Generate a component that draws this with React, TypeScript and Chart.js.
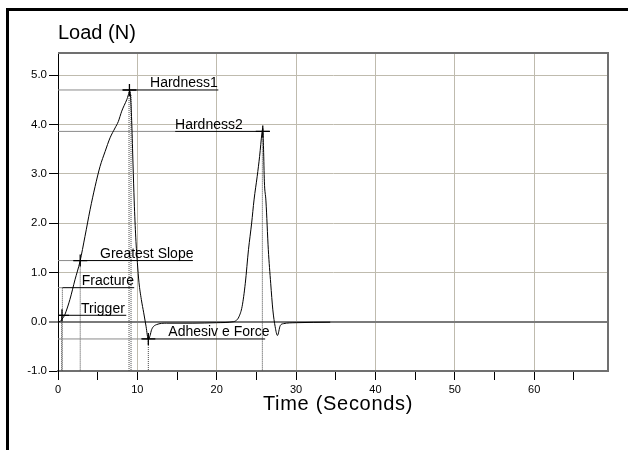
import { useEffect, useRef } from 'react';
import { Chart, registerables } from 'chart.js';

Chart.register(...registerables);

// Texture analyser curve: time (s) vs load (N)
const timeSec = [
  0, 0.3, 0.5, 0.8, 1.0, 1.5, 2.14, 2.77, 3.4, 4.04, 4.67, 5.3, 5.93, 6.56, 7.19, 7.6, 8.03, 8.66, 9.08,
  9.15, 9.3, 9.45, 9.6, 9.8, 10.0, 10.2, 10.5, 10.8, 11.1, 11.38, 11.6, 11.8, 12.4, 13.7, 17, 20, 22.1,
  22.5, 22.8, 23.2, 23.6, 24.0, 24.4, 24.7, 25.1, 25.4, 25.7, 25.8, 25.9, 26.0, 26.2, 26.5, 26.8, 27.07,
  27.36, 27.65, 28.0, 28.4, 30, 34.3,
];
const loadN = [
  0, 0.01, 0.05, 0.12, 0.2, 0.45, 0.85, 1.22, 1.73, 2.27, 2.74, 3.15, 3.45, 3.73, 3.93, 4.06, 4.27, 4.5, 4.67,
  4.55, 4.0, 3.2, 2.45, 1.7, 1.2, 0.8, 0.45, 0.18, -0.1, -0.36, -0.28, -0.16, -0.06, -0.03, -0.03, -0.02, 0.0,
  0.03, 0.1, 0.31, 0.78, 1.46, 2.0, 2.47, 2.95, 3.35, 3.83, 3.92, 3.5, 2.85, 2.45, 1.46, 0.78, 0.24,
  -0.1, -0.28, -0.08, -0.04, -0.02, -0.01,
];

// Analysis markers
const markerNames = ['Trigger', 'Fracture', 'Greatest Slope', 'Hardness1', 'Hardness2', 'Adhesiv e Force'];
const markerTimes = [0.5, 0.55, 2.8, 9.0, 25.8, 11.38];
const markerLoads = [0.13, 0.69, 1.24, 4.7, 3.86, -0.35];
const markerCross = [true, false, true, true, true, true];
const leaderStart = [0, 0.55, 2.0, 8.2, 14.75, 10.6];
const leaderEnd = [8.6, 9.6, 17.0, 20.2, 26.7, 26.1];
const labelTimes = [2.9, 3.0, 5.3, 11.6, 14.75, 13.9];

// Dotted drop lines from analysis points to the axis
const dropTimes = [0.45, 0.55, 2.8, 8.95, 9.2, 11.38, 25.75];
const dropLoads = [0.13, 0.69, 1.24, 4.7, 4.6, -0.35, 3.86];

// Axes
const xMin = 0;
const xMax = 69.3;
const yMin = -1;
const yMax = 5.45;

const FONT = "'Liberation Sans', Arial, Helvetica, sans-serif";
const GRID = '#bfbbae';

export default function App() {
  const ref = useRef<HTMLCanvasElement>(null);

  useEffect(() => {
    const canvas = ref.current;
    if (!canvas) return;

    const curve = timeSec.map((t, i) => ({ x: t, y: loadN[i] }));
    const grayLeaders: any[] = [];
    const darkLeaders: any[] = [];
    markerNames.forEach((_, i) => {
      const v = markerLoads[i];
      if (leaderStart[i] > xMin) {
        grayLeaders.push({ x: xMin, y: v }, { x: leaderStart[i], y: v }, { x: leaderStart[i], y: null });
      }
      darkLeaders.push({ x: leaderStart[i], y: v }, { x: leaderEnd[i], y: v }, { x: leaderEnd[i], y: null });
    });
    const drops: any[] = [];
    dropTimes.forEach((t, i) => {
      drops.push({ x: t, y: dropLoads[i] }, { x: t, y: yMin }, { x: t, y: null });
    });

    const decor = {
      id: 'decor',
      beforeDraw(chart: any) {
        const ctx = chart.ctx;
        ctx.save();
        ctx.fillStyle = '#000';
        ctx.fillRect(6, 8, chart.width - 6, 3);
        ctx.fillRect(6, 8, 3, chart.height - 8);
        ctx.restore();
      },
      afterDatasetsDraw(chart: any) {
        const { ctx, chartArea: a } = chart;
        const xs = chart.scales.x;
        const ys = chart.scales.y;
        ctx.save();
        ctx.strokeStyle = '#707070';
        ctx.lineWidth = 2;
        ctx.beginPath();
        ctx.moveTo(a.left, a.top);
        ctx.lineTo(a.right, a.top);
        ctx.lineTo(a.right, a.bottom);
        ctx.stroke();

        ctx.strokeStyle = '#000';
        ctx.lineWidth = 1.3;
        ctx.fillStyle = '#000';
        ctx.textAlign = 'left';
        ctx.textBaseline = 'alphabetic';
        ctx.font = `14px ${FONT}`;
        markerNames.forEach((name, i) => {
          const px = xs.getPixelForValue(markerTimes[i]);
          const py = ys.getPixelForValue(markerLoads[i]);
          if (markerCross[i]) {
            ctx.beginPath();
            ctx.moveTo(Math.max(a.left, px - 7), py);
            ctx.lineTo(px + 7, py);
            ctx.moveTo(px, py - 6);
            ctx.lineTo(px, py + 6);
            ctx.stroke();
          }
          ctx.fillText(name, xs.getPixelForValue(labelTimes[i]), py - 2.5);
        });

        ctx.font = `20px ${FONT}`;
        ctx.fillText('Load (N)', a.left, a.top - 14.5);
        ctx.textAlign = 'center';
        try { (ctx as any).letterSpacing = '0.7px'; } catch (e) { /* ignore */ }
        ctx.fillText('Time (Seconds)', (a.left + a.right) / 2 + 5, a.bottom + 38.5);
        try { (ctx as any).letterSpacing = '0px'; } catch (e) { /* ignore */ }
        ctx.restore();
      },
    };

    const chart = new Chart(canvas, {
      type: 'line',
      data: {
        datasets: [
          { data: curve, borderColor: '#000', borderWidth: 1, pointRadius: 0, cubicInterpolationMode: 'monotone' },
          { data: grayLeaders, borderColor: '#8a8a8a', borderWidth: 1, pointRadius: 0, spanGaps: false },
          { data: darkLeaders, borderColor: '#000', borderWidth: 1, pointRadius: 0, spanGaps: false },
          { data: drops, borderColor: '#444', borderWidth: 1, borderDash: [1, 1], pointRadius: 0, spanGaps: false },
        ],
      } as any,
      options: {
        responsive: false,
        animation: false,
        devicePixelRatio: 1,
        events: [],
        layout: { padding: { left: 8, top: 53, right: 20, bottom: 49 } },
        plugins: { legend: { display: false }, tooltip: { enabled: false }, title: { display: false } },
        scales: {
          x: {
            type: 'linear',
            min: xMin,
            max: xMax,
            afterFit(scale: any) { scale.height = 30; },
            border: { color: '#707070', width: 2 },
            grid: {
              color: (c: any) => (c.tick && c.tick.value % 10 === 0 && c.tick.value !== 0 ? GRID : 'rgba(0,0,0,0)'),
              tickColor: '#000',
              tickLength: 9,
              lineWidth: 1,
            },
            ticks: {
              stepSize: 5,
              includeBounds: false,
              maxRotation: 0,
              autoSkip: false,
              padding: 3,
              color: '#000',
              font: { family: FONT, size: 11 },
              callback: (v: any) => (Number(v) % 10 === 0 ? String(v) : ''),
            },
          },
          y: {
            type: 'linear',
            min: yMin,
            max: yMax,
            afterFit(scale: any) { scale.width = 50; },
            border: { color: '#000', width: 1 },
            grid: {
              color: (c: any) => {
                if (!c.tick) return GRID;
                if (c.tick.value === 0) return '#7a7a7a';
                if (c.tick.value === yMin) return 'rgba(0,0,0,0)';
                return GRID;
              },
              lineWidth: (c: any) => (c.tick && c.tick.value === 0 ? 2 : 1),
              tickColor: '#000',
              tickWidth: 1,
              tickLength: 9,
            },
            ticks: {
              stepSize: 1,
              includeBounds: false,
              padding: 2,
              color: '#000',
              font: { family: FONT, size: 11.5 },
              callback: (v: any) => Number(v).toFixed(1),
            },
          },
        },
      } as any,
      plugins: [decor],
    });

    return () => chart.destroy();
  }, []);

  return (
    <div style={{ position: 'absolute', left: 0, top: 0, width: 628, height: 450, background: '#fff' }}>
      <canvas ref={ref} width={628} height={450} style={{ width: 628, height: 450, display: 'block' }} />
    </div>
  );
}
